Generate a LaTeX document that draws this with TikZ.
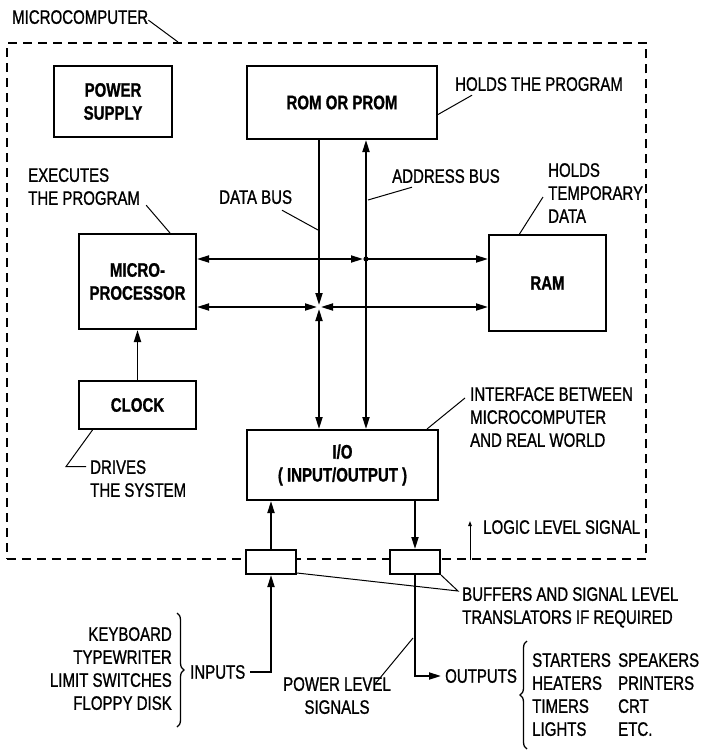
\documentclass[tikz,border=0pt]{standalone}
\usepackage{fontspec}
\setmainfont{Liberation Sans}[FakeStretch=0.77, UprightFeatures={FakeBold=1}, BoldFeatures={FakeBold=1}]
\usepackage{tikz}
\usetikzlibrary{positioning,arrows.meta,decorations.pathreplacing}
\newcommand{\figfont}{\fontsize{19.5}{23}\selectfont}

\begin{document}
\begin{tikzpicture}[
  x=1pt, y=-1pt,
  >={Triangle[length=12pt,width=7pt]},
  node distance=6mm,
  every node/.style={font=\figfont},
  box/.style={
    rectangle, draw, line width=2.4pt, align=center,
    inner sep=0pt, font=\figfont\bfseries
  },
  buffer/.style={
    rectangle, draw, line width=2.4pt, fill=white,
    minimum width=49.6pt, minimum height=23.6pt
  },
  lbl/.style={inner sep=0pt, align=left},
  bus/.style={line width=1.8pt},
  leader/.style={line width=1pt},
  brc/.style={line width=1.3pt, decorate, decoration={brace, amplitude=7pt}}
]
\path[use as bounding box, fill=white] (0,0) rectangle (707,752);

\node (frame) [draw, line width=1.8pt, dash pattern=on 9pt off 6pt, inner sep=0pt,
  minimum width=639.2pt, minimum height=516.2pt] at (326.5,301) {};

\node (power) [box, minimum width=117.6pt, minimum height=70.6pt] at (113,101.5) {POWER\\SUPPLY};
\node (rom) [box, minimum width=189.6pt, minimum height=72.6pt] at (342,102.5) {ROM OR PROM};
\node (micro) [box, minimum width=116.6pt, minimum height=94.6pt] at (137.5,281.5) {MICRO-\\PROCESSOR};
\node (clock) [box, minimum width=116.6pt, minimum height=47.6pt, below=50pt of micro] {CLOCK};
\node (ram) [box, minimum width=116.6pt, minimum height=95.6pt] at (547.5,283) {RAM};
\node (io) [box, minimum width=190.6pt, minimum height=69.6pt] at (342.5,465) {I/O\\( INPUT/OUTPUT )};
\node (bufin) [buffer] at (271,562) {};
\node (bufout) [buffer] at (415,562) {};

\node (mc) [lbl, anchor=north west] at (12,10) {MICROCOMPUTER};
\node (hp) [lbl, anchor=north west] at (455,77) {HOLDS THE PROGRAM};
\node (db) [lbl, anchor=north west] at (219,190) {DATA BUS};
\node (ab) [lbl, anchor=north west] at (392,169) {ADDRESS BUS};
\node (ex) [lbl, anchor=north west] at (28,168) {EXECUTES\\THE PROGRAM};
\node (ht) [lbl, anchor=north west] at (548,163) {HOLDS\\TEMPORARY\\DATA};
\node (dr) [lbl, anchor=north west] at (90,460) {DRIVES\\THE SYSTEM};
\node (itf) [lbl, anchor=north west] at (470,387) {INTERFACE BETWEEN\\MICROCOMPUTER\\AND REAL WORLD};
\node (ll) [lbl, anchor=north west] at (483,520) {LOGIC LEVEL SIGNAL};
\node (bf) [lbl, anchor=north west] at (462,587) {BUFFERS AND SIGNAL LEVEL\\TRANSLATORS IF REQUIRED};
\node (pl) [lbl, align=center, anchor=north] at (337,677) {POWER LEVEL\\SIGNALS};
\node (inl) [lbl, align=right, anchor=north east] at (172,627) {KEYBOARD\\TYPEWRITER\\LIMIT SWITCHES\\FLOPPY DISK};
\node (inputs) [lbl, anchor=west] at (190,672) {INPUTS};
\node (outputs) [lbl, anchor=west] at (445,676) {OUTPUTS};
\node (oc1) [lbl, anchor=north west] at (532,653) {STARTERS\\HEATERS\\TIMERS\\LIGHTS};
\node (oc2) [lbl, anchor=north west] at (618,653) {SPEAKERS\\PRINTERS\\CRT\\ETC.};

\coordinate (dj) at (319,307);
\coordinate (aj) at (366,259);
\coordinate (mctip) at (178,42);
\coordinate (dbtap) at (318,230);
\coordinate (abtap) at (368,200);
\coordinate (lltap) at (470,560);
\coordinate (pltap) at (413,638);

\draw[bus, ->, shorten >=2pt] (rom.south -| dj) -- (dj);
\draw[bus, <->, shorten <=2pt] (dj) -- (io.north -| dj);
\draw[bus, <-] (rom.south -| aj) -- (aj);
\draw[bus, ->] (aj) -- (io.north -| aj);
\draw[bus, <->, shorten >=3pt] (micro.east |- aj) -- (aj);
\draw[bus, ->] (aj) -- (ram.west |- aj);
\draw[bus, <->, shorten >=2pt] (micro.east |- dj) -- (dj);
\draw[bus, <->, shorten >=2pt] (ram.west |- dj) -- (dj);
\fill (aj) circle (2.6pt);

\draw[bus, ->] (clock) -- (micro);
\draw[bus, <-] (io.south -| bufin) -- (bufin);
\draw[bus, ->] (io.south -| bufout) -- (bufout);
\draw[bus, ->, shorten <=5pt] (inputs) -| (bufin);
\draw[bus, ->, shorten >=4pt] (bufout) |- (outputs);

\draw[leader] ([yshift=-3pt]mc.east) -- (mctip);
\draw[leader] ([xshift=17pt,yshift=-4pt]hp.south west) -- ([yshift=-12pt]rom.east);
\draw[leader] ([xshift=63pt,yshift=-6pt]db.south west) -- (dbtap);
\draw[leader] ([xshift=20pt,yshift=-4pt]ab.south west) -- (abtap);
\draw[leader] ([xshift=6pt]ex.south east) -- ([xshift=-27pt]micro.north east);
\draw[leader] ([xshift=-5pt,yshift=-4pt]ht.west) -- ([xshift=-28pt]ram.north);
\draw[leader] ([xshift=-4pt,yshift=-6.6pt]dr.north west) -- ++(-20,0) -- ([xshift=-45pt]clock.south);
\draw[leader] ([xshift=-5pt,yshift=-11pt]itf.north west) -- ([xshift=-12pt]io.north east);
\draw[leader, -{Triangle[length=5pt,width=3.5pt]}] (lltap) -- ([xshift=-13pt,yshift=-1pt]ll.north west);
\draw[leader] ([yshift=2pt]bufin.south east) -- ([xshift=-4pt,yshift=-4pt]bf.north west) -- (bufout.south east);
\draw[leader] ([xshift=38pt,yshift=-7pt]pl.north) -- (pltap);

\draw[brc] (177,613) -- (177,727);
\draw[brc] (527,749) -- (527,641);
\end{tikzpicture}
\end{document}
